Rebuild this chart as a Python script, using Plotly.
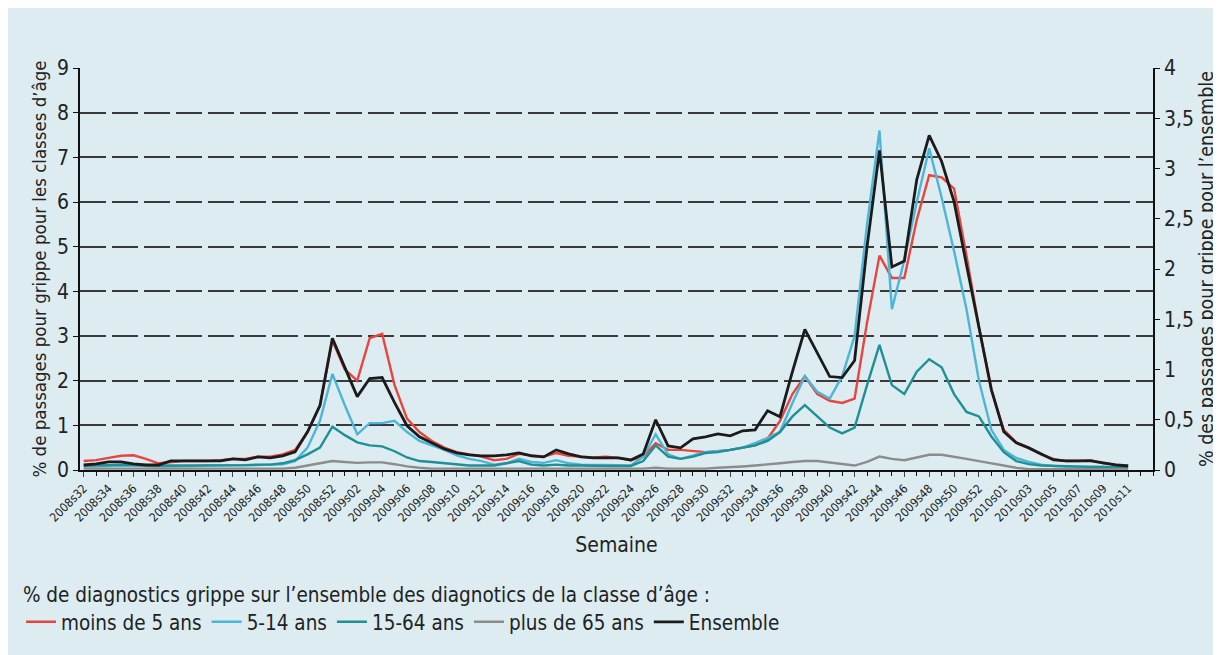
import plotly.graph_objects as go

# ---- categories: weeks 2008s32 .. 2010s11 ----
week_years = [2008, 2009, 2010]
week_first = [32, 1, 1]
week_last = [52, 53, 11]
weeks = []
for yr, a, b in zip(week_years, week_first, week_last):
    for w in range(a, b + 1):
        weeks.append(f"{yr}s{w:02d}")

# ---- series (left axis, % by age class) ----
moins_5 = [0.2, 0.22, 0.27, 0.32, 0.33, 0.25, 0.15, 0.18, 0.2, 0.2,
           0.2, 0.22, 0.25, 0.25, 0.3, 0.3, 0.35, 0.45, 0.85, 1.45,
           2.9, 2.25, 2.0, 2.95, 3.05, 1.9, 1.15, 0.85, 0.65, 0.5,
           0.4, 0.35, 0.3, 0.22, 0.25, 0.36, 0.33, 0.3, 0.38, 0.32,
           0.3, 0.28, 0.3, 0.27, 0.22, 0.3, 0.6, 0.45, 0.45, 0.42,
           0.4, 0.42, 0.45, 0.5, 0.55, 0.7, 1.1, 1.7, 2.1, 1.7,
           1.55, 1.5, 1.6, 3.3, 4.8, 4.3, 4.3, 5.6, 6.6, 6.55,
           6.3, 4.8, 3.2, 1.8, 0.9, 0.62, 0.5, 0.35, 0.25, 0.2,
           0.2, 0.22, 0.15, 0.12, 0.1]
ans_5_14 = [0.08, 0.08, 0.09, 0.1, 0.1, 0.09, 0.08, 0.08, 0.09, 0.09,
            0.1, 0.1, 0.1, 0.1, 0.11, 0.12, 0.13, 0.2, 0.5, 1.1,
            2.15, 1.45, 0.8, 1.05, 1.05, 1.1, 0.85, 0.65, 0.55, 0.45,
            0.33, 0.25, 0.2, 0.12, 0.15, 0.25, 0.18, 0.16, 0.22, 0.15,
            0.12, 0.12, 0.11, 0.11, 0.1, 0.3, 0.8, 0.35, 0.25, 0.32,
            0.4, 0.42, 0.45, 0.5, 0.6, 0.72, 0.85, 1.5, 2.1, 1.75,
            1.6, 2.1, 3.0, 5.5, 7.6, 3.6, 4.7, 6.0, 7.2, 6.1,
            4.9, 3.6, 2.0, 0.9, 0.45, 0.27, 0.18, 0.12, 0.09, 0.08,
            0.08, 0.07, 0.07, 0.06, 0.06]
ans_15_64 = [0.1, 0.1, 0.11, 0.12, 0.11, 0.1, 0.1, 0.1, 0.1, 0.1,
             0.1, 0.1, 0.11, 0.11, 0.12, 0.12, 0.15, 0.22, 0.35, 0.5,
             0.97, 0.78, 0.62, 0.55, 0.53, 0.42, 0.28, 0.2, 0.18, 0.15,
             0.12, 0.1, 0.1, 0.1, 0.15, 0.2, 0.12, 0.1, 0.12, 0.1,
             0.1, 0.09, 0.09, 0.09, 0.09, 0.2, 0.55, 0.3, 0.25, 0.3,
             0.38, 0.4, 0.45, 0.5, 0.55, 0.65, 0.85, 1.2, 1.45, 1.2,
             0.95, 0.82, 0.95, 1.9, 2.8, 1.9, 1.7, 2.2, 2.48, 2.3,
             1.7, 1.3, 1.2, 0.75, 0.4, 0.2, 0.13, 0.1, 0.09, 0.08,
             0.08, 0.07, 0.07, 0.06, 0.06]
plus_65 = [0.03, 0.03, 0.03, 0.03, 0.03, 0.03, 0.03, 0.03, 0.03, 0.03,
           0.03, 0.03, 0.03, 0.03, 0.03, 0.03, 0.03, 0.05, 0.1, 0.15,
           0.2, 0.18, 0.16, 0.17, 0.17, 0.13, 0.08, 0.05, 0.03, 0.03,
           0.03, 0.03, 0.03, 0.03, 0.03, 0.03, 0.03, 0.03, 0.03, 0.03,
           0.03, 0.03, 0.03, 0.03, 0.03, 0.03, 0.05, 0.03, 0.03, 0.03,
           0.03, 0.05, 0.06, 0.08, 0.1, 0.12, 0.15, 0.18, 0.2, 0.2,
           0.17, 0.14, 0.1, 0.18, 0.3, 0.25, 0.22, 0.28, 0.34, 0.34,
           0.3, 0.25, 0.2, 0.15, 0.1, 0.05, 0.02, 0.02, 0.02, 0.02,
           0.02, 0.02, 0.02, 0.02, 0.02]

# ---- Ensemble (right axis) ----
ensemble = [0.05, 0.06, 0.08, 0.08, 0.06, 0.05, 0.05, 0.09, 0.09, 0.09,
            0.09, 0.09, 0.11, 0.10, 0.13, 0.12, 0.14, 0.18, 0.38, 0.64,
            1.31, 1.02, 0.73, 0.91, 0.92, 0.67, 0.44, 0.33, 0.27, 0.21,
            0.17, 0.15, 0.14, 0.14, 0.15, 0.17, 0.14, 0.13, 0.20, 0.16,
            0.13, 0.12, 0.12, 0.12, 0.10, 0.16, 0.50, 0.24, 0.22, 0.31,
            0.33, 0.36, 0.34, 0.39, 0.40, 0.59, 0.53, 0.98, 1.40, 1.16,
            0.93, 0.92, 1.09, 2.22, 3.18, 2.02, 2.08, 2.89, 3.33, 3.07,
            2.67, 2.04, 1.42, 0.80, 0.38, 0.27, 0.22, 0.16, 0.10, 0.09,
            0.09, 0.09, 0.07, 0.05, 0.04]

left_ticks = [0, 1, 2, 3, 4, 5, 6, 7, 8, 9]
right_ticks = [0, 0.5, 1, 1.5, 2, 2.5, 3, 3.5, 4]
right_ticktext = ["0", "0,5", "1", "1,5", "2", "2,5", "3", "3,5", "4"]

x = list(range(len(weeks)))
label_idx = x[::2]
label_txt = [weeks[i] for i in label_idx]

BG = "#dcecf1"
FONT = "DejaVu Sans Condensed, Open Sans, sans-serif"

fig = go.Figure()
series = [
    ("moins de 5 ans", moins_5, "#e8453f", "y", 2.4),
    ("5-14 ans", ans_5_14, "#4db5d6", "y", 2.4),
    ("15-64 ans", ans_15_64, "#1e9096", "y", 2.4),
    ("plus de 65 ans", plus_65, "#8c8c8c", "y", 2.4),
    ("Ensemble", ensemble, "#1b1b1b", "y2", 2.8),
]
for name, vals, col, ax, lw in series:
    fig.add_trace(go.Scatter(x=x, y=vals, name=name, mode="lines",
                             line=dict(color=col, width=lw), yaxis=ax))

fig.update_layout(
    width=1221, height=655,
    paper_bgcolor=BG, plot_bgcolor=BG,
    margin=dict(l=72, r=76, t=60, b=193),
    font=dict(family=FONT, color="#222", size=15),
    showlegend=True,
    legend=dict(
        orientation="h", x=-0.055, xanchor="left", y=-0.262, yanchor="top",
        bgcolor="rgba(0,0,0,0)", font=dict(size=20.5, family=FONT),
        title=dict(text="% de diagnostics grippe sur l\u2019ensemble des diagnotics de la classe d\u2019\u00e2ge :",
                   side="top", font=dict(size=20.5, family=FONT)),
        itemwidth=30, tracegroupgap=0,
    ),
    xaxis=dict(
        range=[-0.3, 86.0], tickmode="array", tickvals=label_idx, ticktext=label_txt,
        tickangle=-45, tickfont=dict(size=12, family=FONT), ticks="outside", ticklen=5,
        showline=True, linecolor="#111", linewidth=1.5, showgrid=False, zeroline=False,
        minor=dict(dtick=1, tick0=0, ticks="outside", ticklen=4, tickcolor="#111", showgrid=False),
        title=dict(text="Semaine", font=dict(size=21, family=FONT), standoff=14),
    ),
    yaxis=dict(
        range=[0, 9], tickvals=left_ticks, tickfont=dict(size=21, family=FONT),
        ticks="outside", ticklen=5, tickcolor="#111",
        showline=True, linecolor="#111", linewidth=1.5,
        showgrid=True, gridcolor="#3a3a3a", gridwidth=1.6, griddash="26px,6px",
        zeroline=False,
        title=dict(text="% de passages pour grippe pour les classes d\u2019\u00e2ge",
                   font=dict(size=18.5, family=FONT), standoff=6),
    ),
    yaxis2=dict(
        range=[0, 4], overlaying="y", side="right", tickmode="array",
        tickvals=right_ticks, ticktext=right_ticktext,
        tickfont=dict(size=21, family=FONT), ticks="outside", ticklen=5, tickcolor="#111",
        showline=True, linecolor="#111", linewidth=1.5, showgrid=False, zeroline=False,
        title=dict(text="% des passages pour grippe pour l\u2019ensemble",
                   font=dict(size=19.5, family=FONT), standoff=6),
    ),
)

fig.write_html("out.html")
